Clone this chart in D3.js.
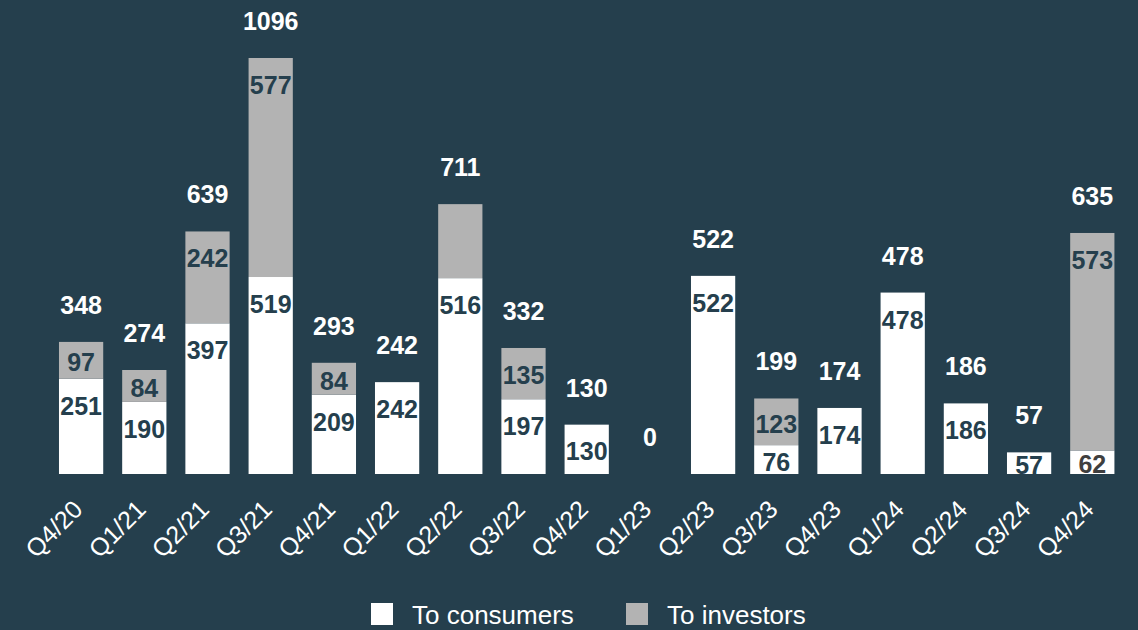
<!DOCTYPE html>
<html>
<head>
<meta charset="utf-8">
<script src="https://cdn.jsdelivr.net/npm/d3@7"></script>
<style>
  html, body { margin: 0; padding: 0; background: #253f4d; }
  svg { display: block; font-family: "Liberation Sans", Arial, sans-serif; }
</style>
</head>
<body>
<svg id="chart" width="1138" height="630"></svg>
<script>
// Quarterly volumes, split by recipient
const quarters = ["Q4/20","Q1/21","Q2/21","Q3/21","Q4/21","Q1/22","Q2/22","Q3/22","Q4/22",
                  "Q1/23","Q2/23","Q3/23","Q4/23","Q1/24","Q2/24","Q3/24","Q4/24"];
const toConsumers = [251,190,397,519,209,242,516,197,130,0,522,76,174,478,186,57,62];
const toInvestors = [97,84,242,577,84,0,195,135,0,0,0,123,0,0,0,0,573];
// Investor segment labels (null where the segment carries no label)
const investorLabels = [97,84,242,577,84,null,null,135,null,null,null,123,null,null,null,null,573];
const totals = [348,274,639,1096,293,242,711,332,130,0,522,199,174,478,186,57,635];
const seriesNames = ["To consumers","To investors"];

const BG = "#253f4d", GREY = "#b3b3b3", WHITE = "#ffffff";
const svg = d3.select("#chart");
const baseY = 474;

const x = d3.scaleBand().domain(quarters).range([49.5, 1123.9]).paddingInner(0.3).paddingOuter(0.15);
const y = d3.scaleLinear().domain([0, 1096]).range([baseY, 58]);

const rows = quarters.map((q, i) => ({ q, c: toConsumers[i], v: toInvestors[i], vl: investorLabels[i], t: totals[i] }));

svg.append("defs").append("clipPath").attr("id", "plot")
  .append("rect").attr("x", 0).attr("y", 0).attr("width", 1138).attr("height", baseY);

const plot = svg.append("g").attr("clip-path", "url(#plot)");

// consumer segments
plot.selectAll("rect.cons").data(rows.filter(d => d.c > 0)).join("rect")
  .attr("class", "cons")
  .attr("x", d => x(d.q)).attr("width", x.bandwidth())
  .attr("y", d => y(d.c)).attr("height", d => baseY - y(d.c))
  .attr("fill", WHITE);

// investor segments stacked on top
plot.selectAll("rect.inv").data(rows.filter(d => d.v > 0)).join("rect")
  .attr("class", "inv")
  .attr("x", d => x(d.q)).attr("width", x.bandwidth())
  .attr("y", d => y(d.c + d.v)).attr("height", d => y(d.c) - y(d.c + d.v))
  .attr("fill", GREY);

// label placed near the top of a segment, centred in short ones
function segLabelY(lo, hi) {
  const top = y(hi), h = y(lo) - y(hi);
  return top + Math.min(27, h / 2 + 2);
}

plot.selectAll("text.cl").data(rows.filter(d => d.c > 0)).join("text")
  .attr("class", "cl")
  .attr("x", d => x(d.q) + x.bandwidth() / 2)
  .attr("y", d => segLabelY(0, d.c))
  .attr("dy", "0.36em")
  .attr("text-anchor", "middle")
  .attr("font-size", 25).attr("font-weight", "bold")
  .attr("fill", d => d.q === "Q4/24" ? "#3f3f3f" : BG)
  .text(d => d.c);

plot.selectAll("text.vl").data(rows.filter(d => d.vl != null)).join("text")
  .attr("class", "vl")
  .attr("x", d => x(d.q) + x.bandwidth() / 2)
  .attr("y", d => segLabelY(d.c, d.c + d.v))
  .attr("dy", "0.36em")
  .attr("text-anchor", "middle")
  .attr("font-size", 25).attr("font-weight", "bold")
  .attr("fill", BG)
  .text(d => d.vl);

// totals above each column
svg.selectAll("text.tot").data(rows).join("text")
  .attr("class", "tot")
  .attr("x", d => x(d.q) + x.bandwidth() / 2)
  .attr("y", d => y(d.t) - 28)
  .attr("text-anchor", "middle")
  .attr("font-size", 25).attr("font-weight", "bold")
  .attr("fill", WHITE)
  .text(d => d.t);

// x axis (labels only)
const xAxis = svg.append("g").attr("transform", `translate(0,${baseY})`)
  .call(d3.axisBottom(x).tickSize(0).tickPadding(0));
xAxis.select(".domain").remove();
xAxis.selectAll("text")
  .attr("font-family", "Liberation Sans, Arial, sans-serif")
  .attr("font-size", 25)
  .attr("fill", WHITE)
  .attr("text-anchor", "end")
  .attr("dy", 0)
  .attr("transform", "translate(3,37) rotate(-45)");

// legend
const legend = svg.append("g");
const legendItems = [{ name: seriesNames[0], color: WHITE, x: 371 }, { name: seriesNames[1], color: GREY, x: 626 }];
legendItems.forEach(it => {
  legend.append("rect").attr("x", it.x).attr("y", 603).attr("width", 22).attr("height", 22).attr("fill", it.color);
  legend.append("text").attr("x", it.x + 41).attr("y", 624)
    .attr("font-size", 26).attr("fill", WHITE).text(it.name);
});
</script>
</body>
</html>
